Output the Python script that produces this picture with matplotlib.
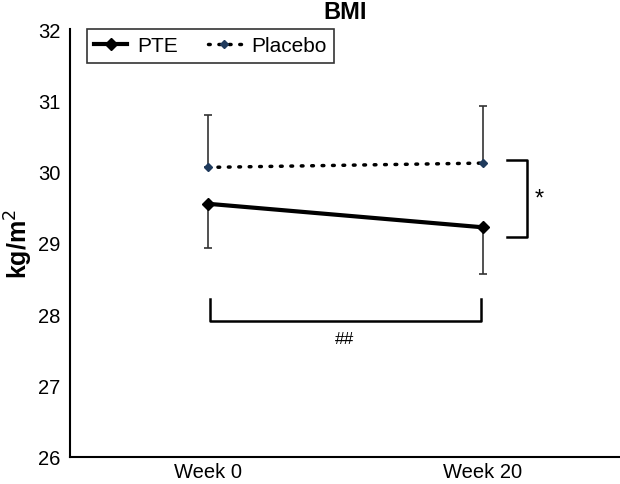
import numpy as np
import matplotlib.pyplot as plt

plt.rcParams['font.family'] = ['Liberation Sans', 'DejaVu Sans']

weeks = ['Week 0', 'Week 20']
pte = [29.55, 29.22]
pte_err = [0.62, 0.66]
placebo = [30.06, 30.12]
placebo_err = [0.74, 0.80]

x = np.arange(len(weeks))

fig = plt.figure(figsize=(6.2, 4.85), dpi=100)
ax = fig.add_axes([0.113, 0.056, 0.887, 0.882])

# error bars: placebo upward only, PTE downward only
ax.errorbar(x, placebo, yerr=[np.zeros(2), placebo_err], fmt='none',
            ecolor='#333333', elinewidth=1.2, capsize=3, capthick=1.2, zorder=1)
ax.errorbar(x, pte, yerr=[pte_err, np.zeros(2)], fmt='none',
            ecolor='#333333', elinewidth=1.2, capsize=3, capthick=1.2, zorder=1)

ax.plot(x, pte, color='black', lw=3, marker='D', ms=6, label='PTE', zorder=3)
ax.plot(x, placebo, color='black', lw=2.5, ls=(0, (0.5, 2.5)), marker='D', ms=4,
        mfc='#1f3a5c', mec='#1f3a5c', dash_capstyle='round', label='Placebo', zorder=3)

# significance brackets
bx0, bx1 = 1.09, 1.16
ax.plot([bx0, bx1, bx1, bx0], [30.17, 30.17, 29.08, 29.08], color='black', lw=1.8)
ax.text(1.205, 29.62, '*', fontsize=17, ha='center', va='center')

ax.plot([0.01, 0.01, 0.995, 0.995], [28.22, 27.9, 27.9, 28.22], color='black', lw=1.8)
ax.text(0.5, 27.66, '##', fontsize=12.5, ha='center', va='center')

ax.set_xlim(-0.5, 1.5)
ax.set_ylim(26, 32)
ax.set_yticks(range(26, 33))
ax.set_xticks(x)
ax.set_xticklabels(weeks)
ax.tick_params(axis='both', length=0, labelsize=14.5)
ax.tick_params(axis='y', pad=7)
ax.tick_params(axis='x', pad=4)
for s in ['top', 'right']:
    ax.spines[s].set_visible(False)
ax.spines['left'].set_linewidth(1.5)
ax.spines['bottom'].set_linewidth(1.5)

ax.set_ylabel('kg/m$^2$', fontsize=18, fontweight='bold', labelpad=2)
ax.set_title('BMI', fontsize=17, fontweight='bold', pad=8)

leg = ax.legend(loc='upper left', bbox_to_anchor=(0.03, 1.0), ncol=2, fontsize=15,
                frameon=True, fancybox=False, edgecolor='black', handlelength=1.6,
                columnspacing=1.4, borderpad=0.35, handletextpad=0.5,
                borderaxespad=0)
leg.get_frame().set_linewidth(1.2)

fig.savefig('out.png', dpi=100)
plt.close()
